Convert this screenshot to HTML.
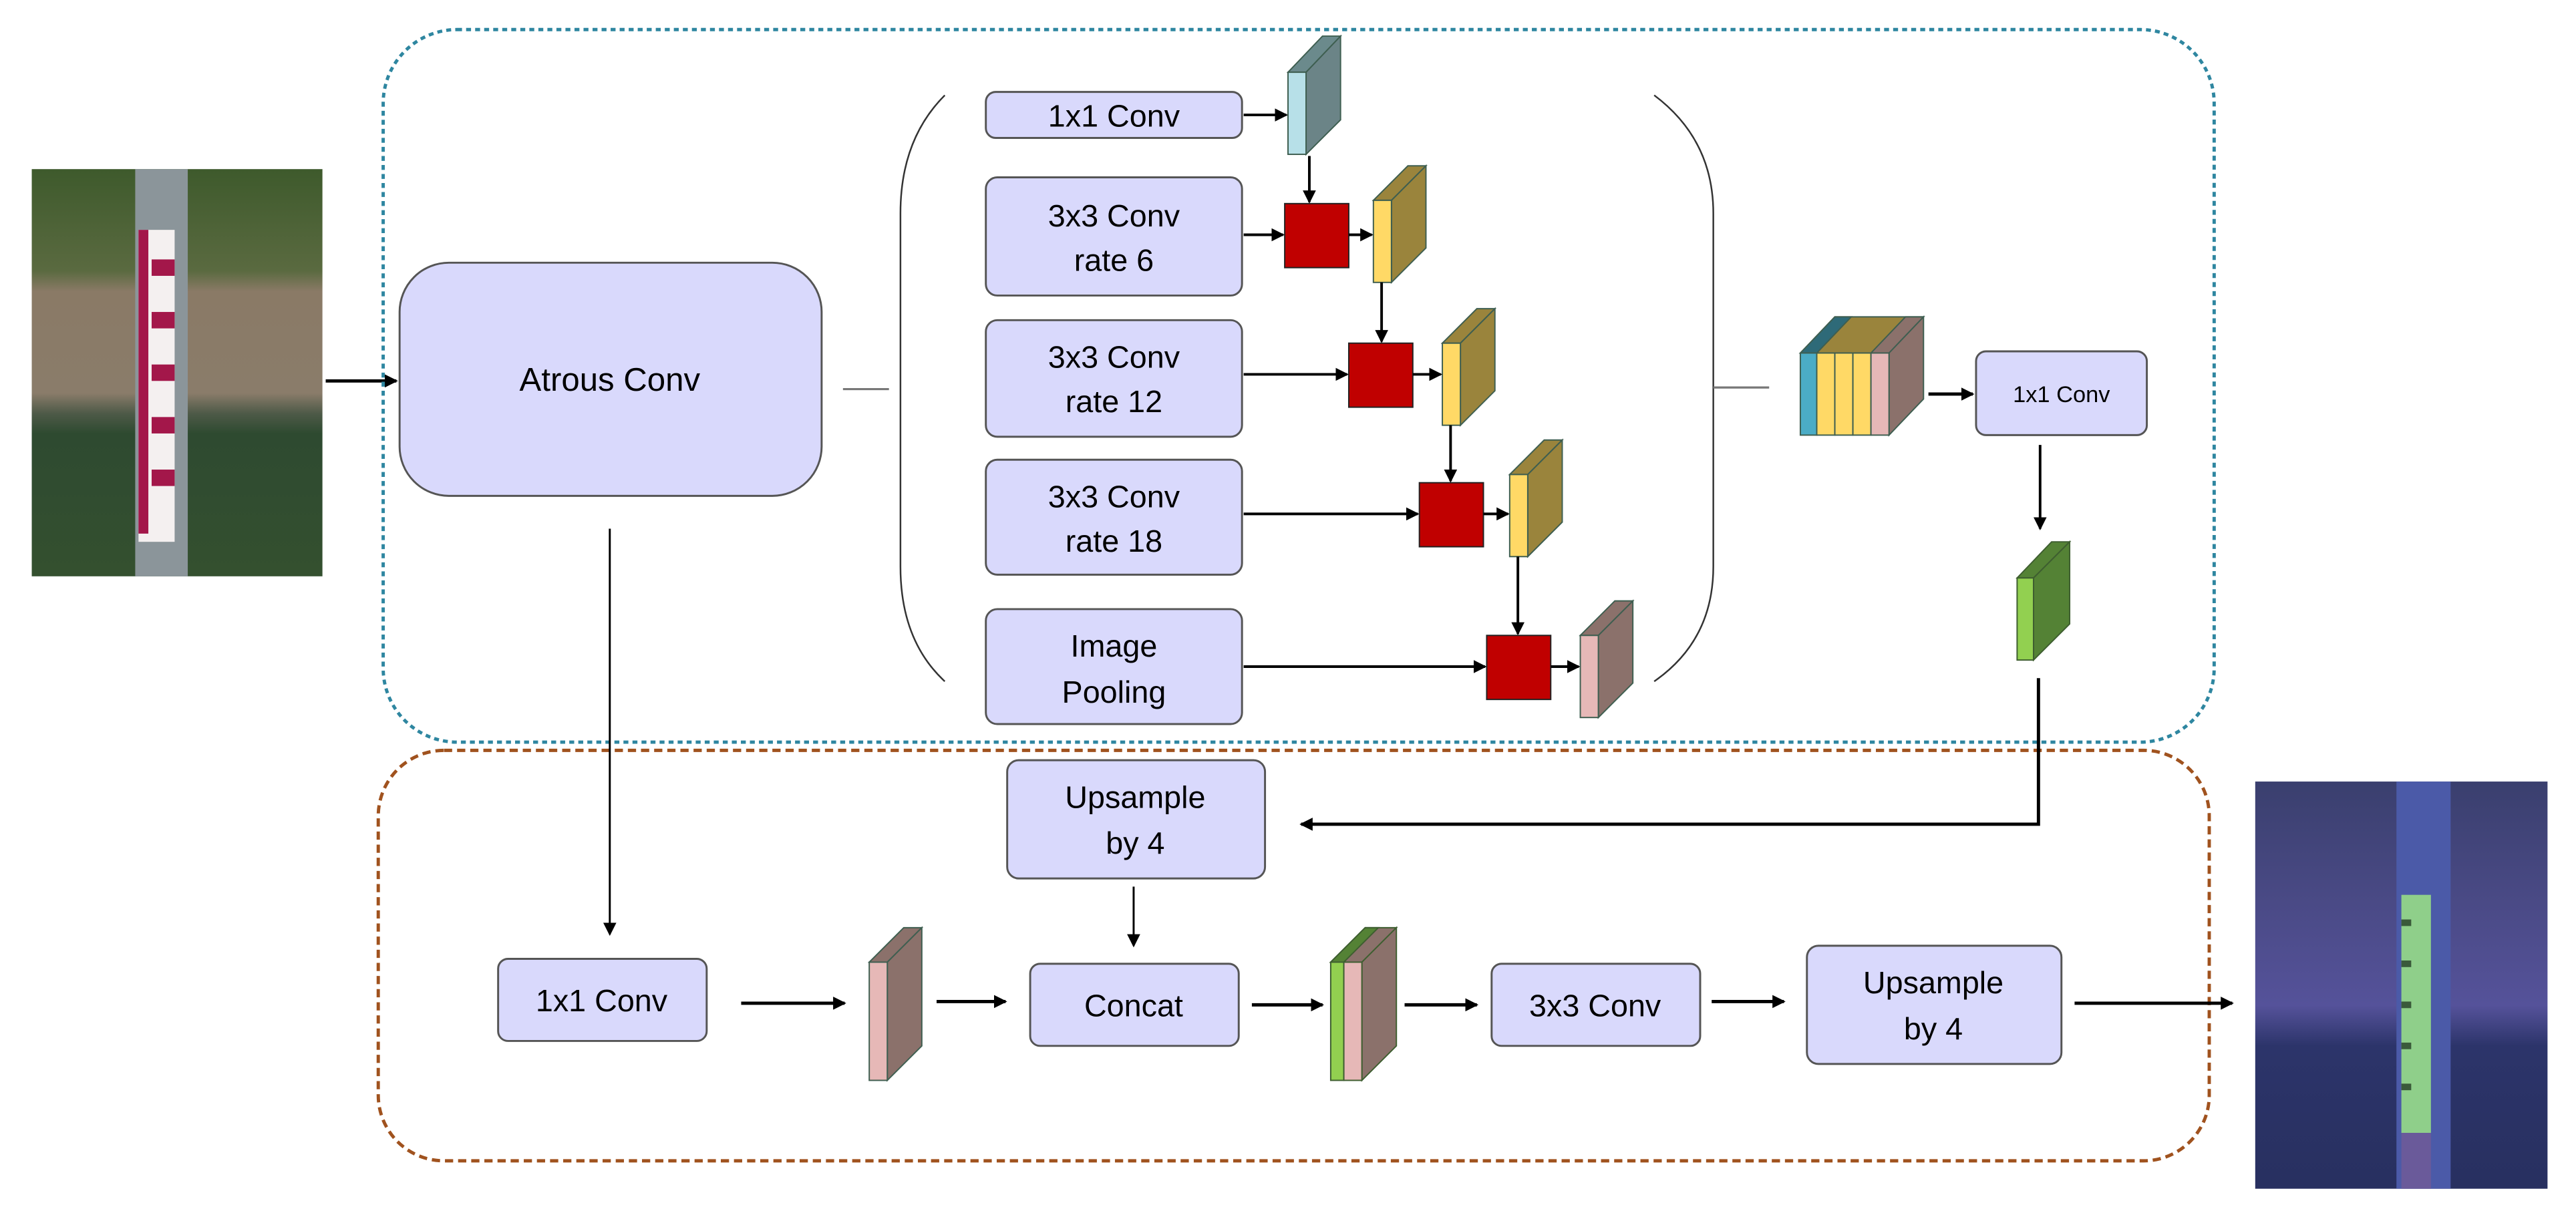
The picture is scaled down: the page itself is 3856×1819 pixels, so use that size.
<!DOCTYPE html>
<html><head><meta charset="utf-8"><style>
html,body{margin:0;padding:0;background:#fff;}
svg{display:block;}
text{font-family:"Liberation Sans",sans-serif;fill:#000;}
</style></head><body>
<svg width="3856" height="1819" viewBox="0 0 1568 740" xmlns="http://www.w3.org/2000/svg">
<defs>
<marker id="ah" markerWidth="8" markerHeight="8" refX="7" refY="4" orient="auto" markerUnits="userSpaceOnUse">
<path d="M0,0 L8,4 L0,8 Z" fill="#000"/></marker>
<linearGradient id="lp" x1="0" y1="0" x2="0" y2="1">
<stop offset="0" stop-color="#3e5a2c"/><stop offset="0.25" stop-color="#5a6a40"/><stop offset="0.3" stop-color="#8a7a66"/><stop offset="0.55" stop-color="#8a7c6a"/><stop offset="0.6" stop-color="#4e5a48"/><stop offset="0.65" stop-color="#2e4a30"/><stop offset="1" stop-color="#34502f"/></linearGradient>
<linearGradient id="rp" x1="0" y1="0" x2="0" y2="1">
<stop offset="0" stop-color="#3a3f6e"/><stop offset="0.3" stop-color="#4a4a86"/><stop offset="0.55" stop-color="#55529a"/><stop offset="0.65" stop-color="#2c346a"/><stop offset="1" stop-color="#283060"/></linearGradient>
</defs>

<rect x="19" y="103" width="177" height="248" fill="url(#lp)"/>
<rect x="82" y="103" width="32" height="248" fill="#8b959a"/>
<rect x="84" y="140" width="22" height="190" fill="#f4f0f0"/>
<g fill="#a3174a">
<rect x="84" y="140" width="6" height="185"/>
<rect x="92" y="158" width="14" height="10"/><rect x="92" y="190" width="14" height="10"/>
<rect x="92" y="222" width="14" height="10"/><rect x="92" y="254" width="14" height="10"/>
<rect x="92" y="286" width="14" height="10"/>
</g>

<line x1="198" y1="232" x2="241" y2="232" stroke="#000" stroke-width="2" marker-end="url(#ah)"/>

<rect x="233" y="18" width="1115" height="434" rx="45" fill="none" stroke="#2e86a0" stroke-width="2" stroke-dasharray="3,2.5"/>
<rect x="230" y="457" width="1115" height="250" rx="40" fill="none" stroke="#a0521e" stroke-width="2" stroke-dasharray="5,3"/>

<g fill="#d9d9fc" stroke="#555" stroke-width="1.2">
<rect x="243" y="160" width="257" height="142" rx="30"/>
<rect x="600" y="56" width="156" height="28" rx="6"/>
<rect x="600" y="108" width="156" height="72" rx="7"/>
<rect x="600" y="195" width="156" height="71" rx="7"/>
<rect x="600" y="280" width="156" height="70" rx="7"/>
<rect x="600" y="371" width="156" height="70" rx="7"/>
<rect x="1203" y="214" width="104" height="51" rx="6"/>
<rect x="613" y="463" width="157" height="72" rx="7"/>
<rect x="303" y="584" width="127" height="50" rx="6"/>
<rect x="627" y="587" width="127" height="50" rx="6"/>
<rect x="908" y="587" width="127" height="50" rx="6"/>
<rect x="1100" y="576" width="155" height="72" rx="7"/>
</g>
<g font-size="19" text-anchor="middle">
<text x="371" y="238" font-size="20">Atrous Conv</text>
<text x="678" y="77">1x1 Conv</text>
<text x="678" y="138">3x3 Conv</text><text x="678" y="165">rate 6</text>
<text x="678" y="224">3x3 Conv</text><text x="678" y="251">rate 12</text>
<text x="678" y="309">3x3 Conv</text><text x="678" y="336">rate 18</text>
<text x="678" y="400">Image</text><text x="678" y="428">Pooling</text>
<text x="1255" y="245" font-size="14">1x1 Conv</text>
<text x="691" y="492">Upsample</text><text x="691" y="520">by 4</text>
<text x="366" y="616">1x1 Conv</text>
<text x="690" y="619">Concat</text>
<text x="971" y="619">3x3 Conv</text>
<text x="1177" y="605">Upsample</text><text x="1177" y="633">by 4</text>
</g>

<line x1="513" y1="237" x2="541" y2="237" stroke="#777" stroke-width="1.3"/>
<path d="M575,58 Q548,85 548,130 L548,345 Q548,390 575,415" fill="none" stroke="#333" stroke-width="1"/>
<path d="M1007,58 Q1043,85 1043,130 L1043,345 Q1043,390 1007,415" fill="none" stroke="#333" stroke-width="1"/>
<line x1="1043" y1="236" x2="1077" y2="236" stroke="#777" stroke-width="1.3"/>

<g stroke="#3e5e50" stroke-width="0.8">
<polygon points="784,44 805,22 816,22 795,44" fill="#6b8a8c"/>
<polygon points="795,44 816,22 816,73 795,94" fill="#6b8487"/>
<rect x="784" y="44" width="11" height="50" fill="#b7e0e8"/>
</g>
<g stroke="#3e5e50" stroke-width="0.8">
<polygon points="836,122 857,101 868,101 847,122" fill="#9a843c"/>
<polygon points="847,122 868,101 868,151 847,172" fill="#9a843c"/>
<rect x="836" y="122" width="11" height="50" fill="#ffd966"/>
<polygon points="878,209 899,188 910,188 889,209" fill="#9a843c"/>
<polygon points="889,209 910,188 910,238 889,259" fill="#9a843c"/>
<rect x="878" y="209" width="11" height="50" fill="#ffd966"/>
<polygon points="919,289 940,268 951,268 930,289" fill="#9a843c"/>
<polygon points="930,289 951,268 951,318 930,339" fill="#9a843c"/>
<rect x="919" y="289" width="11" height="50" fill="#ffd966"/>
<polygon points="962,387 983,366 994,366 973,387" fill="#8b716b"/>
<polygon points="973,387 994,366 994,416 973,437" fill="#8b716b"/>
<rect x="962" y="387" width="11" height="50" fill="#e6b8b7"/>
</g>
<g fill="#c00000" stroke="#222" stroke-width="0.8">
<rect x="782" y="124" width="39" height="39"/>
<rect x="821" y="209" width="39" height="39"/>
<rect x="864" y="294" width="39" height="39"/>
<rect x="905" y="387" width="39" height="39"/>
</g>

<g stroke="#3e5e50" stroke-width="0.8">
<polygon points="1096,215 1117,193 1171,193 1150,215" fill="#9a843c"/>
<polygon points="1096,215 1117,193 1127,193 1106,215" fill="#2e6a78"/>
<polygon points="1139,215 1160,193 1171,193 1150,215" fill="#8b716b"/>
<polygon points="1150,215 1171,193 1171,243 1150,265" fill="#8b716b"/>
<rect x="1096" y="215" width="10" height="50" fill="#4bacc6"/>
<rect x="1106" y="215" width="11" height="50" fill="#ffd966"/>
<rect x="1117" y="215" width="11" height="50" fill="#ffd966"/>
<rect x="1128" y="215" width="11" height="50" fill="#ffd966"/>
<rect x="1139" y="215" width="11" height="50" fill="#e6b8b7"/>
</g>
<g stroke="#3e5e30" stroke-width="0.8">
<polygon points="1228,352 1249,330 1260,330 1238,352" fill="#548235"/>
<polygon points="1238,352 1260,330 1260,380 1238,402" fill="#548235"/>
<rect x="1228" y="352" width="10" height="50" fill="#92d050"/>
</g>
<g stroke="#3e5e50" stroke-width="0.8">
<polygon points="529,586 550,565 561,565 540,586" fill="#8b716b"/>
<polygon points="540,586 561,565 561,637 540,658" fill="#8b716b"/>
<rect x="529" y="586" width="11" height="72" fill="#e6b8b7"/>
</g>
<g stroke="#3e5e30" stroke-width="0.8">
<polygon points="810,586 831,565 850,565 829,586" fill="#8b716b"/>
<polygon points="810,586 831,565 839,565 818,586" fill="#548235"/>
<polygon points="829,586 850,565 850,637 829,658" fill="#8b716b"/>
<rect x="810" y="586" width="8" height="72" fill="#92d050"/>
<rect x="818" y="586" width="11" height="72" fill="#e6b8b7"/>
</g>

<g stroke="#000" stroke-width="1.6" fill="none" marker-end="url(#ah)">
<line x1="757" y1="70" x2="783" y2="70"/>
<line x1="797" y1="95" x2="797" y2="123"/>
<line x1="757" y1="143" x2="781" y2="143"/>
<line x1="821" y1="143" x2="835" y2="143"/>
<line x1="841" y1="172" x2="841" y2="208"/>
<line x1="757" y1="228" x2="820" y2="228"/>
<line x1="860" y1="228" x2="877" y2="228"/>
<line x1="883" y1="259" x2="883" y2="293"/>
<line x1="757" y1="313" x2="863" y2="313"/>
<line x1="903" y1="313" x2="918" y2="313"/>
<line x1="924" y1="339" x2="924" y2="386"/>
<line x1="757" y1="406" x2="904" y2="406"/>
<line x1="944" y1="406" x2="961" y2="406"/>
<line x1="1174" y1="240" x2="1201" y2="240" stroke-width="2"/>
<line x1="1242" y1="271" x2="1242" y2="322"/>
<polyline points="1241,413 1241,502 792,502" stroke-width="2"/>
<line x1="371" y1="322" x2="371" y2="569" stroke-width="1.2"/>
<line x1="690" y1="540" x2="690" y2="576" stroke-width="1.2"/>
<line x1="451" y1="611" x2="514" y2="611" stroke-width="2"/>
<line x1="570" y1="610" x2="612" y2="610" stroke-width="2"/>
<line x1="762" y1="612" x2="805" y2="612" stroke-width="2"/>
<line x1="855" y1="612" x2="899" y2="612" stroke-width="2"/>
<line x1="1042" y1="610" x2="1086" y2="610" stroke-width="2"/>
<line x1="1263" y1="611" x2="1359" y2="611" stroke-width="2"/>
</g>

<rect x="1373" y="476" width="178" height="248" fill="url(#rp)"/>
<rect x="1459" y="476" width="33" height="248" fill="#4b5aa8"/>
<rect x="1462" y="545" width="18" height="145" fill="#8fcf8a"/>
<g fill="#3a5a3a">
<rect x="1462" y="560" width="6" height="4"/><rect x="1462" y="585" width="6" height="4"/>
<rect x="1462" y="610" width="6" height="4"/><rect x="1462" y="635" width="6" height="4"/>
<rect x="1462" y="660" width="6" height="4"/>
</g>
<rect x="1462" y="690" width="18" height="34" fill="#6a5a9a"/>
</svg>
</body></html>
